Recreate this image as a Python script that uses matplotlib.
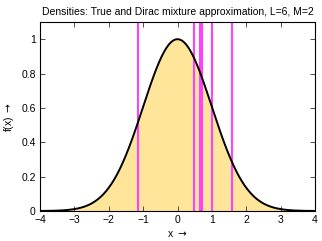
import numpy as np
import matplotlib
matplotlib.use("Agg")
import matplotlib.pyplot as plt

# True density: Gaussian shape, peak 1 at x=0, spread 1
true_mean = 0.0
true_sigma = 1.0
x_range = (-4, 4)

# Dirac component locations
dirac_positions = [-1.155, 0.483, 0.649, 0.707, 1.007, 1.58]

x_ticks = [-4, -3, -2, -1, 0, 1, 2, 3, 4]
y_ticks = [0, 0.2, 0.4, 0.6, 0.8, 1.0]
y_tick_labels = ["0", "0.2", "0.4", "0.6", "0.8", "1"]

plt.rcParams['font.family'] = ['Liberation Sans', 'DejaVu Sans']
plt.rcParams['mathtext.fontset'] = 'dejavusans'

fig = plt.figure(figsize=(3.22, 2.41), dpi=100)
ax = fig.add_axes([40/322, (241-211)/241, 275/322, 189/241])

xs = np.linspace(x_range[0], x_range[1], 400)
ys = np.exp(-0.5 * ((xs - true_mean) / true_sigma) ** 2)

ax.fill_between(xs, 0, ys, color='#FFE59A', lw=0, zorder=1)
for p in dirac_positions:
    ax.axvline(p, color='#FF40FF', lw=1.5, zorder=2)
ax.plot(xs, ys, color='black', lw=1.4, zorder=3)

ax.set_xlim(-4, 4)
ax.set_ylim(0, 1.1)
ax.set_xticks(x_ticks)
ax.set_xticklabels([str(t).replace('-', '\u2212') for t in x_ticks])
ax.set_yticks(y_ticks)
ax.set_yticklabels(y_tick_labels)
ax.tick_params(direction='in', length=3.5, width=0.6, top=True, right=True,
               labelsize=7.5, pad=3, color='#333333')
for s in ax.spines.values():
    s.set_linewidth(0.8)

ax.set_title("Densities: True and Dirac mixture approximation, L=6, M=2",
             fontsize=7.5, pad=5)
ax.set_xlabel("x $\\rightarrow$", fontsize=7.5, labelpad=3)
ax.set_ylabel("f(x) $\\rightarrow$", fontsize=7.5, labelpad=4)

fig.savefig("out.png", dpi=100)
